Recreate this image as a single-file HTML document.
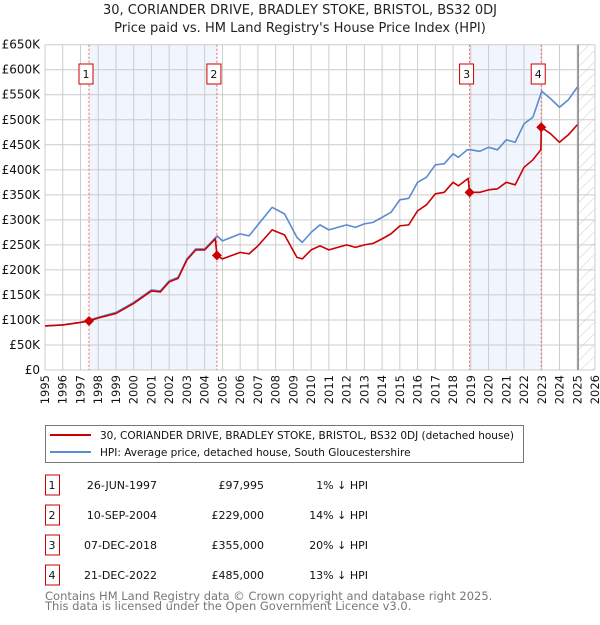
<!DOCTYPE html>
<html><head><meta charset="utf-8"><style>
body{margin:0;background:#fff;font-family:"Liberation Sans","DejaVu Sans",sans-serif;}
svg text{font-family:"DejaVu Sans","Liberation Sans",sans-serif;}
</style></head><body>
<svg id="chart" width="600" height="620" xmlns="http://www.w3.org/2000/svg">
<defs><pattern id="hatch" width="8" height="8" patternUnits="userSpaceOnUse" patternTransform="rotate(45)"><line x1="0" y1="0" x2="0" y2="8" stroke="#ccc" stroke-width="1"/></pattern></defs>
<text x="300" y="14" text-anchor="middle" font-size="13" fill="#222">30, CORIANDER DRIVE, BRADLEY STOKE, BRISTOL, BS32 0DJ</text>
<text x="300" y="32" text-anchor="middle" font-size="13" fill="#222">Price paid vs. HM Land Registry's House Price Index (HPI)</text>
<g id="plot"></g>
<g>
<rect x="45.5" y="425.5" width="478" height="37" fill="#fff" stroke="#777"/>
<line x1="50" y1="435" x2="91" y2="435" stroke="#cc0000" stroke-width="2"/>
<text x="100" y="439" font-size="10.5" fill="#111">30, CORIANDER DRIVE, BRADLEY STOKE, BRISTOL, BS32 0DJ (detached house)</text>
<line x1="50" y1="452" x2="91" y2="452" stroke="#5b8bd0" stroke-width="2"/>
<text x="100" y="456" font-size="10.5" fill="#111">HPI: Average price, detached house, South Gloucestershire</text>
</g>
<g id="table" font-size="11" fill="#111"></g>
<text x="45" y="600" font-size="11.5" fill="#777">Contains HM Land Registry data © Crown copyright and database right 2025.</text>
<text x="45" y="610" font-size="11.5" fill="#777">This data is licensed under the Open Government Licence v3.0.</text>
</svg>
<script>
const hpiYears=[1995,1996,1997,1998,1999,2000,2001,2001.5,2002,2002.5,2003,2003.5,2004,2004.7,2005,2006,2006.5,2007,2007.8,2008.5,2009.2,2009.5,2010,2010.5,2011,2012,2012.5,2013,2013.5,2014,2014.5,2015,2015.5,2016,2016.5,2017,2017.5,2018,2018.3,2018.8,2019,2019.5,2020,2020.5,2021,2021.5,2022,2022.5,2023,2023.5,2024,2024.5,2025];
const hpiValues=[88,90,95,105,115,135,160,158,178,185,222,242,242,268,258,272,268,290,325,312,265,255,275,290,280,290,285,292,295,305,315,340,343,375,385,410,412,432,425,440,440,437,445,440,460,455,492,505,557,542,525,540,565];
const propYears=[1995,1996,1997,1997.48,1998,1999,2000,2001,2001.5,2002,2002.5,2003,2003.5,2004,2004.6,2004.69,2005,2006,2006.5,2007,2007.8,2008.5,2009.2,2009.5,2010,2010.5,2011,2012,2012.5,2013,2013.5,2014,2014.5,2015,2015.5,2016,2016.5,2017,2017.5,2018,2018.3,2018.85,2018.93,2019.5,2020,2020.5,2021,2021.5,2022,2022.5,2022.95,2022.97,2023.5,2024,2024.5,2025];
const propValues=[88,90,95,98,104,113,133,158,156,176,183,220,240,240,262,229,222,235,232,248,280,270,225,222,240,248,240,250,245,250,253,262,272,288,290,318,330,352,355,375,368,383,355,355,360,362,375,370,405,420,440,485,472,455,470,490];
const saleLabels=["1","2","3","4"];
const saleYears=[1997.48,2004.69,2018.93,2022.97];
const salePrices=[97.995,229,355,485];
const saleDates=["26-JUN-1997","10-SEP-2004","07-DEC-2018","21-DEC-2022"];
const salePriceText=["£97,995","£229,000","£355,000","£485,000"];
const salePct=["1% ↓ HPI","14% ↓ HPI","20% ↓ HPI","13% ↓ HPI"];
const yTicks=[0,50,100,150,200,250,300,350,400,450,500,550,600,650];
const yTickLabels=["£0","£50K","£100K","£150K","£200K","£250K","£300K","£350K","£400K","£450K","£500K","£550K","£600K","£650K"];
const xTicks=[1995,1996,1997,1998,1999,2000,2001,2002,2003,2004,2005,2006,2007,2008,2009,2010,2011,2012,2013,2014,2015,2016,2017,2018,2019,2020,2021,2022,2023,2024,2025,2026];

const NS="http://www.w3.org/2000/svg";
const X0=45,X1=595,Y0=370,Y1=44.7;
const xs=y=>X0+(y-1995)/31*(X1-X0);
const ys=v=>Y0-v/650*(Y0-Y1);
const plot=document.getElementById('plot');
function mk(tag,attrs,parent){const e=document.createElementNS(NS,tag);for(const k in attrs)e.setAttribute(k,attrs[k]);(parent||plot).appendChild(e);return e;}
for(const [a,b] of [[0,1],[2,3]]){
 const r=mk('rect',{x:xs(saleYears[a]),y:Y1,width:xs(saleYears[b])-xs(saleYears[a]),height:Y0-Y1,fill:'#eef3fc',opacity:0.8});
 
 
}
const h=mk('rect',{x:xs(2025.05),y:Y1,width:X1-xs(2025.05),height:Y0-Y1,fill:'url(#hatch)'});


xTicks.forEach(t=>{
 const l=mk('line',{x1:xs(t),x2:xs(t),y1:Y1,y2:Y0,stroke:'#ccc','stroke-width':1});
 
 
 const tx=mk('text',{x:0,y:0,'font-size':11.5,fill:'#111','text-anchor':'end',transform:`translate(${xs(t)+4},${Y0+5}) rotate(-90)`});
 tx.textContent=t;
 
 
});
yTicks.forEach((t,i)=>{
 const l=mk('line',{x1:X0,x2:X1,y1:ys(t),y2:ys(t),stroke:'#ccc','stroke-width':1});
 
 
 const tx=mk('text',{x:40,y:ys(t)+4,'font-size':12,fill:'#111','text-anchor':'end'});
 tx.textContent=yTickLabels[i];
 
 
});
const nl=mk('line',{x1:xs(2025.05),x2:xs(2025.05),y1:Y1,y2:Y0,stroke:'#888','stroke-width':1.5});


saleYears.forEach((y,i)=>{
 const l=mk('line',{x1:xs(y),x2:xs(y),y1:Y1,y2:Y0,stroke:'#e66','stroke-width':1,'stroke-dasharray':'2,2'});
 
 
 const r=mk('rect',{x:xs(y)-10,y:64,width:14,height:20,fill:'#fff',stroke:'#cc0000'});
 
 
 const t=mk('text',{x:xs(y)-3,y:78,'font-size':11,'text-anchor':'middle',fill:'#111'});
 t.textContent=saleLabels[i];
 
 
});
const line=(xa,va,c,n)=>{const p=mk('polyline',{points:xa.map((x,i)=>xs(x)+','+ys(va[i])).join(' '),fill:'none',stroke:c,'stroke-width':1.6,'stroke-linejoin':'round'});
 
 };
line(hpiYears,hpiValues,'#5b8bd0','hpi-line');
line(propYears,propValues,'#cc0000','property-line');
saleYears.forEach((y,i)=>{
 const d=mk('path',{d:`M${xs(y)},${ys(salePrices[i])-5}l5,5l-5,5l-5,-5z`,fill:'#cc0000'});
 
 
});
const tb=document.getElementById('table');
saleLabels.forEach((s,i)=>{
 const cy=485+i*30;
 const r=mk('rect',{x:45.5,y:cy-10,width:14,height:20,fill:'#fff',stroke:'#cc0000'},tb);
 
 
 const cells=[[52,'middle',s],[157,'end',saleDates[i]],[264,'end',salePriceText[i]],[368,'end',salePct[i]]];
 cells.forEach(([x,a,txt],j)=>{const t=mk('text',{x:x,y:cy+4,'text-anchor':a,'font-size':11},tb);t.textContent=txt;
  
  });
});
</script>
</body></html>
